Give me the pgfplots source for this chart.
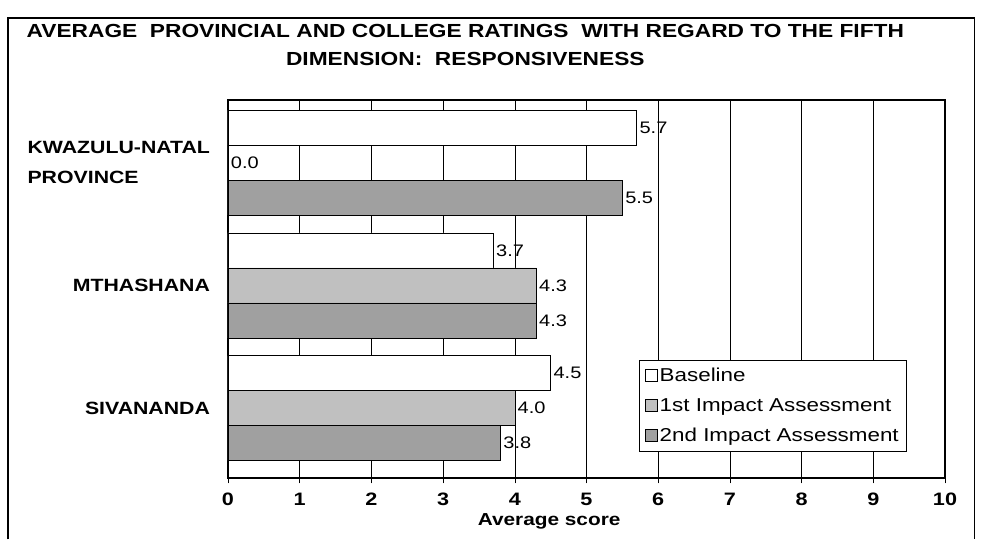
\documentclass[border=0pt]{standalone}
\usepackage{fontspec}
\setmainfont{Liberation Sans}[FakeStretch=1.2]
\usepackage{pgfplots}
\pgfplotsset{compat=1.18}
\definecolor{firstimp}{RGB}{192,192,192}
\definecolor{secondimp}{RGB}{160,160,160}
\begin{document}
\begin{tikzpicture}
\useasboundingbox (-171pt,-45.75pt) rectangle (567pt,358.5pt);
% frame round the whole figure
\draw[line width=0.8pt] (-165pt,-46pt) -- (-165pt,345pt) -- (560pt,345pt) -- (560pt,-46pt);
\node[align=center, font=\fontsize{14.2}{21}\selectfont\bfseries] at (178pt,325pt)
  {AVERAGE\ \ PROVINCIAL AND COLLEGE RATINGS\ \ WITH REGARD TO THE FIFTH\\DIMENSION:\ \ RESPONSIVENESS};
\begin{axis}[
    xbar=0pt,
    scale only axis,
    width=537.75pt, height=283.5pt,
    y dir=reverse,
    xmin=0, xmax=10,
    ymin=-0.51, ymax=2.57,
    bar width=0.285,
    xtick={0,...,10},
    ytick={0,1,2},
    yticklabels={{KWAZULU-NATAL\\PROVINCE},MTHASHANA,SIVANANDA},
    yticklabel style={align=left, font=\fontsize{13.3}{22}\selectfont\bfseries, xshift=-6pt},
    ytick style={draw=none},
    extra y ticks={0.5,1.5},
    extra y tick labels={},
    extra y tick style={tick align=outside, major tick length=4pt, tick style={draw=black}},
    xticklabel style={font=\fontsize{13.5}{15}\selectfont\bfseries, yshift=-4pt},
    /pgf/number format/assume math mode=true,
    x tick style={black, thin},
    tick align=center,
    major tick length=8pt,
    xtick pos=bottom,
    xmajorgrids,
    major grid style={black, thin},
    axis line style={black, line width=0.9pt},
    xlabel={Average score},
    xlabel style={font=\fontsize{13}{15}\selectfont\bfseries, yshift=1pt, xshift=-28pt},
    nodes near coords={\pgfmathprintnumber[fixed, fixed zerofill, precision=1]{\pgfplotspointmeta}},
    nodes near coords style={font=\fontsize{12.5}{14}\selectfont, anchor=west, inner sep=2pt},
    legend style={at={(0.947,0.069)}, anchor=south east, draw=black, thin,
        font=\fontsize{14}{17}\selectfont, row sep=7pt, inner sep=4pt,
        cells={anchor=west}},
    legend image code/.code={\draw[#1, draw=black, thin] (0pt,-4pt) rectangle (9pt,5pt);},
]
\addplot[draw=black, fill=white] coordinates {(5.7,0) (3.7,1) (4.5,2)};
\addlegendentry{Baseline}
\addplot[draw=black, fill=firstimp] coordinates {(0.0,0) (4.3,1) (4.0,2)};
\addlegendentry{1st Impact Assessment}
\addplot[draw=black, fill=secondimp] coordinates {(5.5,0) (4.3,1) (3.8,2)};
\addlegendentry{2nd Impact Assessment}
\end{axis}
\end{tikzpicture}
\end{document}
